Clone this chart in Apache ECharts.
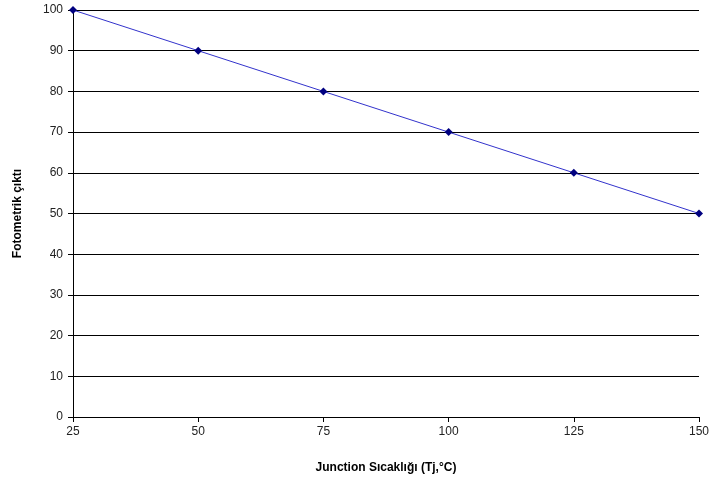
<!DOCTYPE html>
<html><head><meta charset="utf-8">
<script src="https://cdn.jsdelivr.net/npm/echarts@6/dist/echarts.min.js"></script>
<style>html,body{margin:0;padding:0;background:#fff}#c{width:713px;height:484px}</style>
</head><body><div id="c"></div>
<script>
const xValues = [25, 50, 75, 100, 125, 150];
const yValues = [100, 90, 80, 70, 60, 50];
const xTitle = 'Junction Sıcaklığı (Tj,°C)';
const yTitle = 'Fotometrik çıktı';

const chart = echarts.init(document.getElementById('c'), null, {renderer: 'canvas'});
chart.setOption({
  animation: false,
  backgroundColor: '#fff',
  grid: {left: 73, right: 14, top: 10, bottom: 67, containLabel: false},
  xAxis: {
    type: 'value', min: 25, max: 150, interval: 25,
    name: xTitle, nameLocation: 'middle', nameGap: 45,
    nameTextStyle: {fontFamily: 'Liberation Sans', fontWeight: 'bold', fontSize: 12, color: '#000'},
    axisLine: {show: true, lineStyle: {color: '#000', width: 1}},
    axisTick: {show: true, length: 5, lineStyle: {color: '#000'}},
    axisLabel: {fontFamily: 'Liberation Sans', fontSize: 12, color: '#222', margin: 9},
    splitLine: {show: false}
  },
  yAxis: {
    type: 'value', min: 0, max: 100, interval: 10,
    name: yTitle, nameLocation: 'middle', nameGap: 49, nameRotate: 90,
    nameTextStyle: {fontFamily: 'Liberation Sans', fontWeight: 'bold', fontSize: 12, color: '#000'},
    axisLine: {show: true, lineStyle: {color: '#000', width: 1}},
    axisTick: {show: true, length: 5, lineStyle: {color: '#000'}},
    axisLabel: {fontFamily: 'Liberation Sans', fontSize: 12, color: '#222', margin: 10},
    splitLine: {show: true, lineStyle: {color: '#000', width: 1}}
  },
  series: [{
    type: 'line',
    data: xValues.map((x, i) => [x, yValues[i]]),
    symbol: 'diamond', symbolSize: 8,
    lineStyle: {color: '#3333cc', width: 1},
    itemStyle: {color: '#000080'},
    clip: false
  }]
});
</script></body></html>
